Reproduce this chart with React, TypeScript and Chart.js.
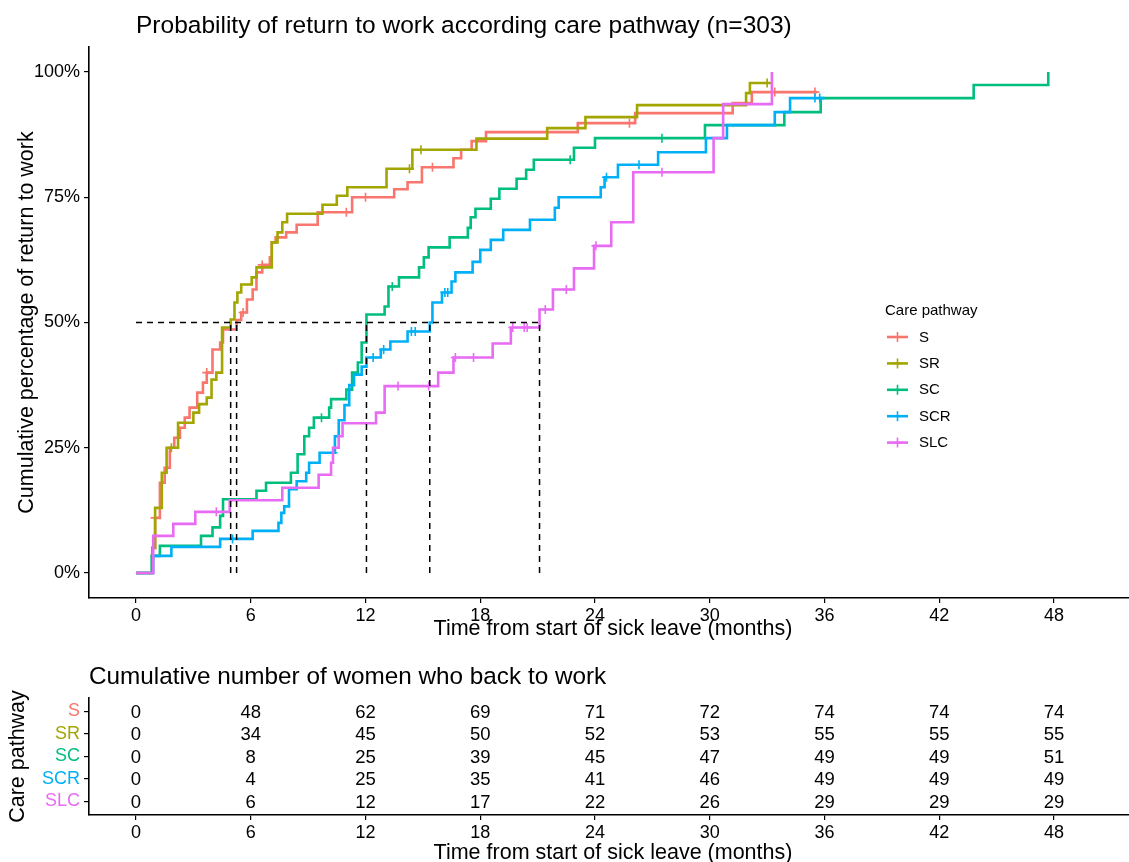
import React, { useEffect, useRef } from "react";
import { Chart, registerables } from "chart.js";
Chart.register(...registerables);

const FONT = "'Liberation Sans', Arial, Helvetica, sans-serif";

const groups = ["S", "SR", "SC", "SCR", "SLC"];
const groupColors = ["#F8766D", "#A3A500", "#00BF7D", "#00B0F6", "#E76BF3"];

// Kaplan-Meier style cumulative return-to-work curves (months, %)
const sTimes = [0, 0.85, 1.0, 1.25, 1.5, 1.77, 2.0, 2.3, 2.55, 2.8, 3.2, 3.5, 3.7, 4.0, 4.4, 4.55, 5.26, 5.5, 5.8, 6.1, 6.3, 6.6, 7.0, 7.1, 7.3, 7.85, 8.4, 9.5, 11.3, 13.5, 14.2, 14.95, 16.6, 17.0, 17.55, 18.3, 23.1, 26.1, 31.2, 32.2];
const sValues = [0, 5, 11, 18, 21, 25, 27, 29, 31, 33, 36, 38, 40, 44.6, 46, 48.6, 50.5, 52, 54.6, 56.6, 60, 61.5, 63, 66, 67, 68, 69.5, 72, 75, 76.6, 78, 81, 82.8, 84.5, 86.2, 88, 89.8, 91.8, 93.8, 96];
const sEnd = 35.6;
const sCensor = [1.0, 3.7, 5.6, 6.6, 11.0, 12.0, 15.5, 25.8, 33.4, 35.5];

const srTimes = [0, 0.85, 1.0, 1.35, 1.6, 2.2, 3.0, 3.3, 3.7, 3.95, 4.2, 4.5, 4.95, 5.15, 5.3, 5.5, 6.05, 6.3, 7.1, 7.4, 7.65, 7.9, 9.75, 10.5, 11.05, 13.1, 14.45, 17.8, 21.5, 23.5, 26.2, 31.9, 32.1];
const srValues = [0, 5, 13, 20, 25, 30, 32, 33.7, 35, 38.6, 40, 49, 50.6, 54, 56, 57.6, 59, 61, 66, 68, 70, 71.7, 73.5, 75.3, 77, 80.7, 84.5, 86.7, 88.8, 91, 93.4, 95.8, 97.8];
const srEnd = 33.2;
const srCensor = [1.85, 14.3, 14.9, 33.0];

const scTimes = [0, 0.82, 1.25, 3.4, 4.0, 4.4, 4.55, 6.3, 6.8, 8.1, 8.45, 8.8, 9.05, 9.3, 10.1, 10.2, 11.0, 11.3, 11.6, 11.8, 12.05, 13.0, 13.2, 13.75, 14.8, 15.05, 15.3, 16.4, 17.35, 17.5, 17.75, 18.55, 19.0, 19.9, 20.4, 20.8, 22.9, 24.0, 29.75, 33.9, 35.8, 43.8, 47.7];
const scValues = [0, 3.4, 5.4, 7.4, 9.1, 11.4, 14.7, 16.4, 18, 20, 23.7, 27.3, 29, 31, 33, 34.7, 36.6, 40, 42, 46, 51.6, 53.2, 57.2, 59, 61, 63, 65, 67, 68.9, 71, 72.7, 74.7, 76.7, 78.7, 80.5, 82.5, 84.9, 86.8, 89.4, 92, 94.8, 97.4, 100];
const scEnd = 47.7;
const scCensor = [9.7, 13.4, 22.7, 27.5];

const scrTimes = [0, 0.9, 1.85, 4.4, 6.1, 7.45, 7.6, 7.75, 8.0, 8.4, 8.9, 9.05, 9.6, 10.4, 10.6, 10.9, 11.15, 11.4, 11.8, 12.05, 12.8, 13.3, 14.2, 15.36, 15.5, 16.0, 16.5, 16.7, 17.6, 18.0, 18.55, 19.2, 20.6, 21.9, 22.1, 24.3, 24.5, 25.2, 27.3, 29.8, 30.9, 33.4, 34.2];
const scrValues = [0, 3.4, 5.2, 6.8, 8.4, 10, 12, 13.3, 16.7, 18.3, 20, 22, 24, 27.3, 30.5, 33.5, 37.5, 39.6, 41.2, 43, 44.6, 46.2, 48.2, 50, 54, 56, 58.2, 60, 62.1, 64.5, 66.5, 68.5, 70.5, 72.9, 75, 77, 79, 81.5, 84, 86.8, 89.4, 92, 94.8];
const scrEnd = 36.0;
const scrCensor = [5.05, 10.3, 12.4, 12.95, 14.4, 14.6, 16.15, 16.3, 24.6, 26.3, 35.5, 35.75];

const slcTimes = [0, 0.9, 1.95, 3.1, 4.9, 7.65, 9.55, 10.2, 10.3, 10.6, 10.8, 12.55, 13.0, 15.8, 16.6, 18.65, 19.6, 21.1, 21.8, 22.9, 23.95, 24.85, 26.0, 30.2, 30.7, 33.25];
const slcValues = [0, 7.4, 9.8, 12.2, 14.5, 17, 19.6, 22, 25, 27.3, 29.9, 32, 37.3, 40, 43, 45.8, 49, 52.6, 56.6, 60.8, 65.3, 70, 80, 86.8, 93.6, 100];
const slcEnd = 33.25;
const slcCensor = [4.2, 13.7, 15.3, 16.7, 17.65, 19.7, 20.3, 20.45, 21.4, 22.5, 24.05, 27.5];

const medianTimes = [4.95, 5.26, 12.05, 15.36, 21.1];
const medianLevel = 50;

const xTicks = [0, 6, 12, 18, 24, 30, 36, 42, 48];
const yTicks = [0, 25, 50, 75, 100];

// Risk table: cumulative number returned to work at each tick time
const tableTimes = [0, 6, 12, 18, 24, 30, 36, 42, 48];
const tableS = [0, 48, 62, 69, 71, 72, 74, 74, 74];
const tableSR = [0, 34, 45, 50, 52, 53, 55, 55, 55];
const tableSC = [0, 8, 25, 39, 45, 47, 49, 49, 51];
const tableSCR = [0, 4, 25, 35, 41, 46, 49, 49, 49];
const tableSLC = [0, 6, 12, 17, 22, 26, 29, 29, 29];

const mainTitle = "Probability of return to work according care pathway (n=303)";
const xTitle = "Time from start of sick leave (months)";
const yTitle = "Cumulative percentage of return to work";
const legendTitle = "Care pathway";
const tableTitle = "Cumulative number of women who back to work";
const tableYTitle = "Care pathway";

// layout constants
const W = 1129;
const H1 = 650;
const H2 = 212;
const PX_PER_MONTH = 19.125;
const ORIGIN_X = 136;
const AXIS_LEFT = 89;
const X_MIN = -(ORIGIN_X - AXIS_LEFT) / PX_PER_MONTH;
const X_MAX = (W - ORIGIN_X) / PX_PER_MONTH;

const series = [
  { times: sTimes, values: sValues, end: sEnd, censor: sCensor },
  { times: srTimes, values: srValues, end: srEnd, censor: srCensor },
  { times: scTimes, values: scValues, end: scEnd, censor: scCensor },
  { times: scrTimes, values: scrValues, end: scrEnd, censor: scrCensor },
  { times: slcTimes, values: slcValues, end: slcEnd, censor: slcCensor },
];
const tableRows = [tableS, tableSR, tableSC, tableSCR, tableSLC];

function stepPoints(times: number[], values: number[], end: number) {
  const pts = times.map((t, i) => ({ x: t, y: values[i] }));
  if (end > times[times.length - 1]) pts.push({ x: end, y: values[values.length - 1] });
  return pts;
}
function valueAt(times: number[], values: number[], t: number) {
  let v = values[0];
  for (let i = 0; i < times.length; i++) if (times[i] <= t) v = values[i];
  return v;
}

const axisCommon = {
  grid: { drawOnChartArea: false, drawTicks: true, tickLength: 5, color: "#000", lineWidth: 1.2 },
  border: { display: true, color: "#000", width: 1.6 },
};

export default function App() {
  const c1 = useRef<HTMLCanvasElement>(null);
  const c2 = useRef<HTMLCanvasElement>(null);

  useEffect(() => {
    const curveSets: any[] = series.map((s, i) => ({
      type: "line",
      label: groups[i],
      data: stepPoints(s.times, s.values, s.end),
      stepped: true,
      borderColor: groupColors[i],
      backgroundColor: groupColors[i],
      borderWidth: 2.6,
      pointRadius: 0,
      fill: false,
      order: 10 - i * 2,
    }));
    const censorSets: any[] = series.map((s, i) => ({
      type: "line",
      label: groups[i] + " censored",
      data: s.censor.map((t) => ({ x: t, y: valueAt(s.times, s.values, t) })),
      showLine: false,
      pointStyle: "cross",
      pointRadius: 4.5,
      borderColor: groupColors[i],
      backgroundColor: groupColors[i],
      borderWidth: 1.6,
      order: 9 - i * 2,
    }));
    const dashSets: any[] = [
      {
        type: "line",
        data: [
          { x: 0, y: medianLevel },
          { x: Math.max(...medianTimes), y: medianLevel },
        ],
      },
      ...medianTimes.map((m) => ({
        type: "line",
        data: [
          { x: m, y: 0 },
          { x: m, y: medianLevel },
        ],
      })),
    ].map((d) => ({
      ...d,
      borderColor: "#000",
      borderWidth: 1.5,
      borderDash: [6, 5],
      pointRadius: 0,
      fill: false,
      order: 0,
    }));

    const mainText = {
      id: "mainText",
      afterDraw(chart: any) {
        const ctx = chart.ctx;
        const ca = chart.chartArea;
        ctx.save();
        ctx.fillStyle = "#000";
        ctx.textBaseline = "alphabetic";
        ctx.font = `24.5px ${FONT}`;
        ctx.textAlign = "left";
        ctx.fillText(mainTitle, ORIGIN_X, 33);
        ctx.font = `21.5px ${FONT}`;
        ctx.textAlign = "center";
        ctx.fillText(xTitle, (ca.left + 1137) / 2, 635);
        ctx.save();
        ctx.translate(33, (ca.top + ca.bottom) / 2);
        ctx.rotate(-Math.PI / 2);
        ctx.fillText(yTitle, 0, 0);
        ctx.restore();
        // legend
        ctx.textAlign = "left";
        ctx.font = `15px ${FONT}`;
        ctx.fillText(legendTitle, 885, 315);
        groups.forEach((g, i) => {
          const cy = 337 + i * 26.4;
          ctx.strokeStyle = groupColors[i];
          ctx.lineWidth = 2.6;
          ctx.beginPath();
          ctx.moveTo(887, cy);
          ctx.lineTo(908, cy);
          ctx.stroke();
          ctx.lineWidth = 1.6;
          ctx.beginPath();
          ctx.moveTo(897.5, cy - 5);
          ctx.lineTo(897.5, cy + 5);
          ctx.moveTo(893, cy);
          ctx.lineTo(902, cy);
          ctx.stroke();
          ctx.fillStyle = "#000";
          ctx.textBaseline = "middle";
          ctx.fillText(g, 919, cy + 0.5);
        });
        ctx.restore();
      },
    };

    const main = new Chart(c1.current as HTMLCanvasElement, {
      type: "line",
      data: { datasets: [...curveSets, ...censorSets, ...dashSets] },
      options: {
        responsive: false,
        animation: false,
        events: [],
        layout: { autoPadding: false, padding: { top: 47, left: 0, right: 0, bottom: 0 } },
        plugins: { legend: { display: false }, tooltip: { enabled: false }, title: { display: false } },
        scales: {
          x: {
            type: "linear",
            min: X_MIN,
            max: X_MAX,
            ...axisCommon,
            afterBuildTicks: (s: any) => {
              s.ticks = xTicks.map((v) => ({ value: v }));
            },
            afterFit: (s: any) => {
              s.height = H1 - 598;
            },
            ticks: { color: "#000", font: { family: FONT, size: 18 }, padding: 2, maxRotation: 0, autoSkip: false },
          },
          y: {
            type: "linear",
            min: -5,
            max: 105,
            ...axisCommon,
            afterBuildTicks: (s: any) => {
              s.ticks = yTicks.map((v) => ({ value: v }));
            },
            afterFit: (s: any) => {
              s.width = AXIS_LEFT;
            },
            ticks: {
              color: "#000",
              font: { family: FONT, size: 18 },
              padding: 4,
              callback: (v: any) => `${v}%`,
            },
          },
        },
      } as any,
      plugins: [mainText],
    });

    const tableSets: any[] = tableRows.map((row, i) => ({
      type: "scatter",
      label: groups[i],
      data: tableTimes.map((t) => ({ x: t, y: i + 1 })),
      counts: row,
      pointRadius: 0,
      showLine: false,
    }));

    const tableText = {
      id: "tableText",
      afterDatasetsDraw(chart: any) {
        const ctx = chart.ctx;
        ctx.save();
        ctx.fillStyle = "#000";
        ctx.font = `18.5px ${FONT}`;
        ctx.textAlign = "center";
        ctx.textBaseline = "middle";
        chart.data.datasets.forEach((ds: any, i: number) => {
          const meta = chart.getDatasetMeta(i);
          meta.data.forEach((el: any, j: number) => {
            ctx.fillText(String(ds.counts[j]), el.x, el.y + 1);
          });
        });
        ctx.restore();
      },
      afterDraw(chart: any) {
        const ctx = chart.ctx;
        const ca = chart.chartArea;
        ctx.save();
        ctx.fillStyle = "#000";
        ctx.textBaseline = "alphabetic";
        ctx.textAlign = "left";
        ctx.font = `24.3px ${FONT}`;
        ctx.fillText(tableTitle, ca.left, 34);
        ctx.font = `21.5px ${FONT}`;
        ctx.textAlign = "center";
        ctx.fillText(xTitle, (ca.left + 1137) / 2, 209);
        ctx.translate(23.5, (ca.top + ca.bottom) / 2);
        ctx.rotate(-Math.PI / 2);
        ctx.fillText(tableYTitle, 0, 0);
        ctx.restore();
      },
    };

    const table = new Chart(c2.current as HTMLCanvasElement, {
      type: "scatter",
      data: { datasets: tableSets },
      options: {
        responsive: false,
        animation: false,
        events: [],
        layout: { autoPadding: false, padding: { top: 48, left: 0, right: 0, bottom: 0 } },
        plugins: { legend: { display: false }, tooltip: { enabled: false }, title: { display: false } },
        scales: {
          x: {
            type: "linear",
            min: X_MIN,
            max: X_MAX,
            ...axisCommon,
            afterBuildTicks: (s: any) => {
              s.ticks = tableTimes.map((v) => ({ value: v }));
            },
            afterFit: (s: any) => {
              s.height = H2 - 165;
            },
            ticks: { color: "#000", font: { family: FONT, size: 18 }, padding: 2, maxRotation: 0, autoSkip: false },
          },
          y: {
            type: "linear",
            min: 0.4,
            max: 5.6,
            reverse: true,
            ...axisCommon,
            afterBuildTicks: (s: any) => {
              s.ticks = groups.map((_, i) => ({ value: i + 1 }));
            },
            afterFit: (s: any) => {
              s.width = AXIS_LEFT;
            },
            ticks: {
              font: { family: FONT, size: 18 },
              padding: 4,
              color: (ctx: any) => groupColors[ctx.index] || "#000",
              callback: (v: any) => groups[Math.round(v) - 1],
            },
          },
        },
      } as any,
      plugins: [tableText],
    });

    return () => {
      main.destroy();
      table.destroy();
    };
  }, []);

  return (
    <div style={{ position: "absolute", left: 0, top: 0, width: W, height: H1 + H2, background: "#fff" }}>
      <canvas ref={c1} width={W} height={H1} style={{ display: "block", width: W, height: H1 }} />
      <canvas ref={c2} width={W} height={H2} style={{ display: "block", width: W, height: H2 }} />
    </div>
  );
}
